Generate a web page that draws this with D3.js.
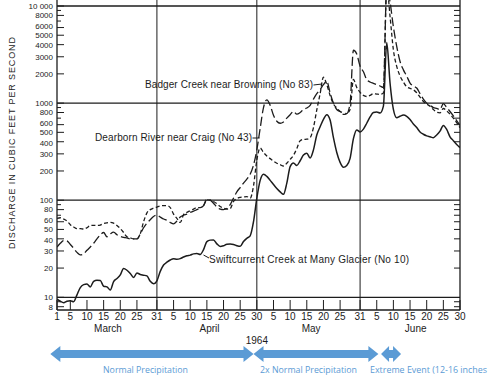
<!DOCTYPE html>
<html><head><meta charset="utf-8">
<script src="https://cdn.jsdelivr.net/npm/d3@7"></script>
<style>body{margin:0;background:#fff} svg{display:block}</style>
</head><body><svg id="chart" width="500" height="375"></svg>
<script>
// Daily discharge, 1 March 1964 (index 0) to 30 June 1964 (index 121), cubic feet per second
const swiftcurrent = [9.6,9.1,8.8,9.1,9.2,9.0,10.6,12.6,13.5,13.7,12.8,14.6,15.0,14.9,13.0,12.8,11.9,14.5,15.6,17.0,19.8,19.0,17.6,16.0,17.8,17.2,16.9,16.6,14.6,13.8,
  14.8,18.5,21.5,23.0,24.2,25.0,24.6,25.0,26.0,26.8,27.2,28.0,28.2,27.6,31.0,37.5,38.8,39.0,35.5,33.4,34.0,35.2,35.3,35.0,34.0,33.5,37.5,40.5,43.0,60,
  105,160,185,176,160,145,132,122,115,150,222,242,228,255,292,305,272,330,470,570,680,760,670,440,310,245,218,228,270,430,530,
  505,540,620,720,800,810,790,930,4200,1600,860,705,732,752,730,677,610,560,505,478,460,450,440,470,515,588,535,450,410,375,348];
const dearborn = [65,66,64,61,56,53,51,51,50.5,52,55,55,55,55.5,57.5,58.5,59,58,55,51,46.5,42,41,40,40,45,60,74,80,83,
  85,87,88,88,84,72,65,59,71,75,78,81,84,84,88,101,100,97,92,86,83,81,82,97,104,107,108,109,105,140,
  260,345,310,285,268,252,240,232,225,240,263,290,340,410,423,425,440,560,850,1250,1850,1550,1200,980,890,820,765,780,860,1750,1450,
  1290,1200,1170,1200,1250,1240,1230,1270,16000,7800,3540,2390,1900,1650,1470,1420,1370,1280,1150,1040,980,927,860,805,795,880,830,770,700,630,557];
const badger = [33,36,38.3,38,35,32,29,27.3,28,30.5,33,36,40,44,46.5,42,45,47,44,42.5,41.5,41,40,40,40,45,52,58,63,68,
  70,67,64,62,59,57,61,67,70,72,75,77,80,83,88,102,100,93,85,81,80,82,90,105,122,135,150,165,185,230,
  330,550,900,1080,950,750,650,620,640,700,760,820,770,800,860,890,950,1100,1250,1380,1550,1680,1270,1000,860,820,790,780,1000,3500,3200,
  2400,2100,1750,1650,1600,1550,1500,1450,16000,11000,6100,3830,2680,2200,1900,1610,1500,1430,1250,1100,1000,950,900,880,858,988,900,820,740,660,588];

const seriesNames = ["Badger Creek near Browning (No 83)", "Dearborn River near Craig (No 43)", "Swiftcurrent Creek at Many Glacier (No 10)"];
const months = ["March", "April", "May", "June"];
const monthStart = [0, 31, 61, 92];          // day index of the 1st of each month
const monthLength = [31, 30, 31, 30];
const dayTickLabels = [[1,5,10,15,20,25,31],[5,10,15,20,25,30],[5,10,15,20,25,31],[5,10,15,20,25,30]];
const yLabelled = [8,10,20,30,40,50,60,80,100,200,300,400,500,600,800,1000,2000,3000,4000,5000,6000,8000,10000];
const yMinorLeft = [9,70,90,700,900,7000,9000];
const yDecades = [10,100,1000,10000];
const yearLabel = "1964";
const periods = ["Normal Precipitation", "2x Normal Precipitation", "Extreme Event (12-16 inches"];
const periodDays = [[-2, 59], [59, 96.5], [97.3, 103.3]]; // arrow spans in day index
const yTitle = "DISCHARGE IN CUBIC FEET PER SECOND";

const svg = d3.select("#chart");
const font = "'Liberation Sans', Arial, Helvetica, sans-serif";
const ink = "#1c1c1c";
const blue = "#5b9bd5";

const x = d3.scaleLinear().domain([0, 121]).range([57, 460]);
const y = d3.scaleLog().domain([7.4, 11530]).range([310, 0]);

const days = d3.range(swiftcurrent.length);

// grid / frame
const g = svg.append("g");
g.selectAll("line.h").data(yDecades).join("line")
  .attr("x1", x(0)).attr("x2", x(121)).attr("y1", d => y(d)).attr("y2", d => y(d))
  .attr("stroke", ink).attr("stroke-width", 1.3);
const monthEnds = [30, 60, 91];
g.selectAll("line.v").data(monthEnds).join("line")
  .attr("x1", d => x(d)).attr("x2", d => x(d)).attr("y1", 0).attr("y2", y.range()[0])
  .attr("stroke", ink).attr("stroke-width", 1);
g.append("line").attr("x1", x(0)).attr("x2", x(0)).attr("y1", 0).attr("y2", 310).attr("stroke", ink).attr("stroke-width", 1.3);
g.append("line").attr("x1", x(121)).attr("x2", x(121)).attr("y1", 0).attr("y2", 310).attr("stroke", ink).attr("stroke-width", 1.3);
g.append("line").attr("x1", x(0)).attr("x2", x(121)).attr("y1", 310).attr("y2", 310).attr("stroke", ink).attr("stroke-width", 1.3);

// left ticks
g.selectAll("line.lt").data(yLabelled).join("line")
  .attr("x1", x(0)).attr("x2", x(0) + 7).attr("y1", d => y(d)).attr("y2", d => y(d))
  .attr("stroke", ink).attr("stroke-width", 1);
g.selectAll("line.lm").data(yMinorLeft).join("line")
  .attr("x1", x(0)).attr("x2", x(0) + 4).attr("y1", d => y(d)).attr("y2", d => y(d))
  .attr("stroke", ink).attr("stroke-width", 1);
// right ticks at 2..9 of each decade
const rightTicks = [];
[1, 10, 100, 1000].forEach(dec => [2,3,4,5,6,7,8,9].forEach(m => { if (dec * m >= 8) rightTicks.push(dec * m); }));
g.selectAll("line.rt").data(rightTicks).join("line")
  .attr("x1", x(121) - 6).attr("x2", x(121)).attr("y1", d => y(d)).attr("y2", d => y(d))
  .attr("stroke", ink).attr("stroke-width", 1);

// y labels (the tightly packed 6/5/4 labels are spread apart slightly)
const lead = d => +String(d)[0];
const nudge = { 6: -1.5, 5: 0, 4: 1 };
g.selectAll("text.yl").data(yLabelled).join("text")
  .attr("x", 53).attr("y", d => y(d) + (d !== 10000 && nudge[lead(d)] ? nudge[lead(d)] : 0)).attr("dy", "0.35em")
  .attr("text-anchor", "end").attr("font-family", font).attr("font-size", 8).attr("fill", ink)
  .text(d => d === 10000 ? "10 000" : String(d));

// y title
svg.append("text")
  .attr("transform", "translate(15,143) rotate(-90)")
  .attr("text-anchor", "middle").attr("font-family", font).attr("font-size", 9).attr("fill", ink)
  .attr("textLength", 212).attr("lengthAdjust", "spacing")
  .text(yTitle);

// x ticks and labels
const xTicks = [];
dayTickLabels.forEach((arr, i) => arr.forEach(k => xTicks.push({ d: monthStart[i] + k - 1, label: String(k) })));
g.selectAll("line.xt").data(xTicks).join("line")
  .attr("x1", d => x(d.d)).attr("x2", d => x(d.d)).attr("y1", 310).attr("y2", 300)
  .attr("stroke", ink).attr("stroke-width", 1);
g.selectAll("text.xl").data(xTicks).join("text")
  .attr("x", d => x(d.d)).attr("y", 319.5).attr("text-anchor", "middle")
  .attr("font-family", font).attr("font-size", 10).attr("fill", ink).text(d => d.label);
g.selectAll("text.mo").data(months).join("text")
  .attr("x", (d, i) => x(monthStart[i] + (monthLength[i] - 1) / 2) + [1, 1, 1, 4][i])
  .attr("y", 331.5).attr("text-anchor", "middle")
  .attr("font-family", font).attr("font-size", 10).attr("fill", ink).text(d => d);
svg.append("text").attr("x", x(60)).attr("y", 343.5).attr("text-anchor", "middle")
  .attr("font-family", font).attr("font-size", 10).attr("fill", ink).text(yearLabel);

// series lines
svg.append("clipPath").attr("id", "plotclip").append("rect")
  .attr("x", x(0)).attr("y", 0).attr("width", x(121) - x(0)).attr("height", 310);
const line = d3.line().x((v, i) => x(days[i])).y(v => y(v)).curve(d3.curveMonotoneX);
const lines = svg.append("g").attr("clip-path", "url(#plotclip)").attr("fill", "none").attr("stroke", ink);
lines.append("path").attr("d", line(dearborn)).attr("stroke-width", 1.3).attr("stroke-dasharray", "4,2.5");
lines.append("path").attr("d", line(badger)).attr("stroke-width", 1.3).attr("stroke-dasharray", "9,3.5");
lines.append("path").attr("d", line(swiftcurrent)).attr("stroke-width", 1.5);

// series labels
const labels = [
  { t: seriesNames[0], x0: 145, yb: 88, len: 168, lead: [[313.5, 85], [322, 84]] },
  { t: seriesNames[1], x0: 95, yb: 141, len: 157, lead: [[252.5, 138], [259.5, 138]] },
  { t: seriesNames[2], x0: 209, yb: 262.5, len: 200, lead: [[203.5, 255], [209, 258]] }
];
labels.forEach(l => {
  svg.append("text").attr("x", l.x0).attr("y", l.yb)
    .attr("font-family", font).attr("font-size", 10).attr("fill", ink)
    .attr("textLength", l.len).attr("lengthAdjust", "spacing").text(l.t);
  svg.append("line").attr("x1", l.lead[0][0]).attr("y1", l.lead[0][1]).attr("x2", l.lead[1][0]).attr("y2", l.lead[1][1])
    .attr("stroke", ink).attr("stroke-width", 1);
});

// precipitation period arrows
function dblArrow(x1, x2, cy, head, hh, sh) {
  const p = [[x1, cy], [x1 + head, cy - hh], [x1 + head, cy - sh], [x2 - head, cy - sh], [x2 - head, cy - hh],
             [x2, cy], [x2 - head, cy + hh], [x2 - head, cy + sh], [x1 + head, cy + sh], [x1 + head, cy + hh]];
  return "M" + p.map(q => q.join(",")).join("L") + "Z";
}
const arrowG = svg.append("g");
periodDays.forEach((pd, i) => {
  const head = i === 2 ? 8 : 10;
  arrowG.append("path").attr("d", dblArrow(x(pd[0]), x(pd[1]), 354, head, 8, 4)).attr("fill", blue);
});
const periodText = [
  { cx: 145.5, anchor: "middle", len: 85 },
  { cx: 308.5, anchor: "middle", len: 97 },
  { cx: 370, anchor: "start", len: 117 }
];
periods.forEach((t, i) => {
  svg.append("text").attr("x", periodText[i].cx).attr("y", 372.5).attr("text-anchor", periodText[i].anchor)
    .attr("font-family", "'Open Sans', 'Noto Sans', sans-serif").attr("font-size", 9).attr("fill", blue)
    .attr("textLength", periodText[i].len).attr("lengthAdjust", "spacingAndGlyphs").text(t);
});
</script>
</body></html>
